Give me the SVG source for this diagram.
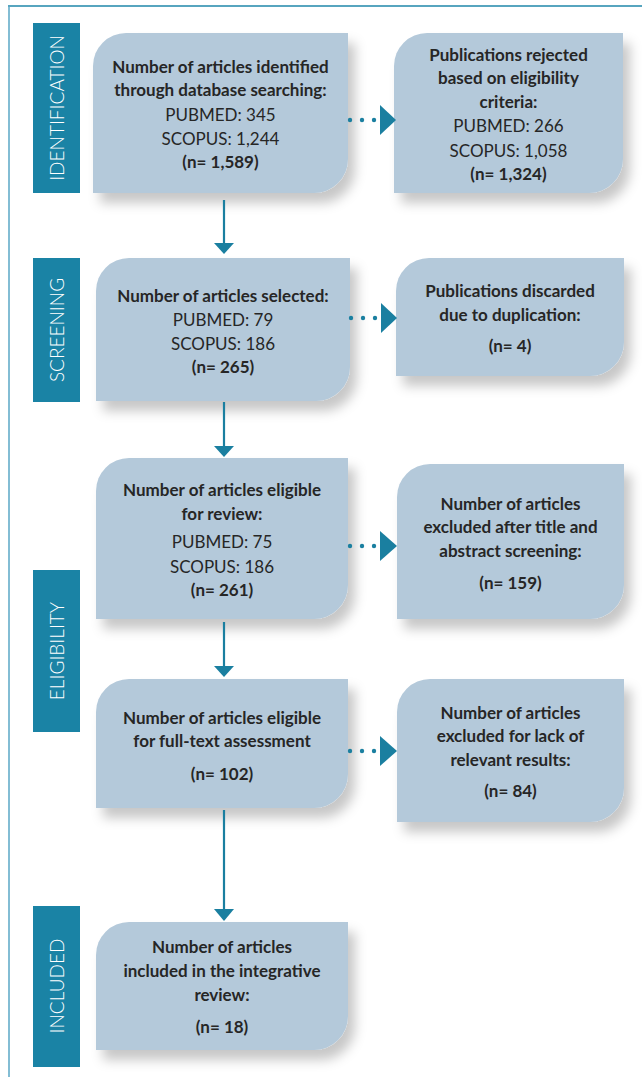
<svg xmlns="http://www.w3.org/2000/svg" width="642" height="1077" viewBox="0 0 642 1077">
<defs>
<filter id="sh" x="-20%" y="-20%" width="150%" height="160%">
<feDropShadow dx="7" dy="10" stdDeviation="6" flood-color="#000" flood-opacity="0.22"/>
</filter>
<style>
.box{fill:#b4c9da;filter:url(#sh);}
.lab{fill:#1a83a5;}
.lt{font-family:Lato,"Open Sans",sans-serif;font-weight:300;font-size:19px;fill:#fff;text-anchor:middle;dominant-baseline:central;}
.t{font-family:Lato,"Open Sans",sans-serif;font-size:17px;fill:#262626;text-anchor:middle;}
.b{font-weight:700;}
.dot{fill:#1a7fa0;}
.ln{stroke:#1a7fa0;stroke-width:2.2;fill:none;}
.hd{fill:#1a7fa0;}
</style>
</defs>
<line x1="8" y1="6" x2="642" y2="6" stroke="#1f87aa" stroke-width="1.5"/>
<line x1="9" y1="6" x2="9" y2="1077" stroke="#5aa7c6" stroke-width="1.5"/>

<g id="stage-labels">
<g id="lab-identification"><rect class="lab" x="33" y="23" width="47" height="170"/><text class="lt" transform="translate(56.5 108) rotate(-90)">IDENTIFICATION</text></g>
<g id="lab-screening"><rect class="lab" x="33" y="258" width="47" height="144"/><text class="lt" transform="translate(56.5 330) rotate(-90)">SCREENING</text></g>
<g id="lab-eligibility"><rect class="lab" x="33" y="570" width="47" height="162"/><text class="lt" transform="translate(56.5 651) rotate(-90)">ELIGIBILITY</text></g>
<g id="lab-included"><rect class="lab" x="33" y="906" width="47" height="161"/><text class="lt" transform="translate(56.5 986) rotate(-90)">INCLUDED</text></g>
</g>

<g id="n1">
<path class="box" d="M93,66 A33,33 0 0 1 126,33 L348,33 L348,159 A34,34 0 0 1 314,193 L93,193 Z"/>
<text class="t b" x="220.5" y="73">Number of articles identified</text>
<text class="t b" x="220.5" y="96">through database searching:</text>
<text class="t" x="220.5" y="121">PUBMED: 345</text>
<text class="t" x="220.5" y="145">SCOPUS: 1,244</text>
<text class="t b" x="220.5" y="168">(n= 1,589)</text>
</g>
<g id="n1r">
<path class="box" d="M394,66 A33,33 0 0 1 427,33 L623,33 L623,159 A34,34 0 0 1 589,193 L394,193 Z"/>
<text class="t b" x="508.5" y="61">Publications rejected</text>
<text class="t b" x="508.5" y="84">based on eligibility</text>
<text class="t b" x="508.5" y="108">criteria:</text>
<text class="t" x="508.5" y="132">PUBMED: 266</text>
<text class="t" x="508.5" y="157">SCOPUS: 1,058</text>
<text class="t b" x="508.5" y="180">(n= 1,324)</text>
</g>
<g id="n2">
<path class="box" d="M96,291 A33,33 0 0 1 129,258 L350,258 L350,367 A34,34 0 0 1 316,401 L96,401 Z"/>
<text class="t b" x="223" y="302">Number of articles selected:</text>
<text class="t" x="223" y="326">PUBMED: 79</text>
<text class="t" x="223" y="350">SCOPUS: 186</text>
<text class="t b" x="223" y="373">(n= 265)</text>
</g>
<g id="n2r">
<path class="box" d="M396,291 A33,33 0 0 1 429,258 L624,258 L624,342 A34,34 0 0 1 590,376 L396,376 Z"/>
<text class="t b" x="510" y="297">Publications discarded</text>
<text class="t b" x="510" y="321">due to duplication:</text>
<text class="t b" x="510" y="352">(n= 4)</text>
</g>
<g id="n3">
<path class="box" d="M96,491 A33,33 0 0 1 129,458 L348,458 L348,585 A34,34 0 0 1 314,619 L96,619 Z"/>
<text class="t b" x="222" y="496">Number of articles eligible</text>
<text class="t b" x="222" y="520">for review:</text>
<text class="t" x="222" y="548">PUBMED: 75</text>
<text class="t" x="222" y="573">SCOPUS: 186</text>
<text class="t b" x="222" y="596">(n= 261)</text>
</g>
<g id="n3r">
<path class="box" d="M397,497 A33,33 0 0 1 430,464 L624,464 L624,585 A34,34 0 0 1 590,619 L397,619 Z"/>
<text class="t b" x="510.5" y="510">Number of articles</text>
<text class="t b" x="510.5" y="533">excluded after title and</text>
<text class="t b" x="510.5" y="557">abstract screening:</text>
<text class="t b" x="510.5" y="589">(n= 159)</text>
</g>
<g id="n4">
<path class="box" d="M96,712 A33,33 0 0 1 129,679 L348,679 L348,774 A34,34 0 0 1 314,808 L96,808 Z"/>
<text class="t b" x="222" y="724">Number of articles eligible</text>
<text class="t b" x="222" y="747">for full-text assessment</text>
<text class="t b" x="222" y="780">(n= 102)</text>
</g>
<g id="n4r">
<path class="box" d="M397,712 A33,33 0 0 1 430,679 L624,679 L624,788 A34,34 0 0 1 590,822 L397,822 Z"/>
<text class="t b" x="510.5" y="719">Number of articles</text>
<text class="t b" x="510.5" y="742">excluded for lack of</text>
<text class="t b" x="510.5" y="766">relevant results:</text>
<text class="t b" x="510.5" y="797">(n= 84)</text>
</g>
<g id="n5">
<path class="box" d="M96,955 A33,33 0 0 1 129,922 L348,922 L348,1016 A34,34 0 0 1 314,1050 L96,1050 Z"/>
<text class="t b" x="222" y="953">Number of articles</text>
<text class="t b" x="222" y="977">included in the integrative</text>
<text class="t b" x="222" y="1001">review:</text>
<text class="t b" x="222" y="1033">(n= 18)</text>
</g>

<g id="connectors">
<line class="ln" x1="224" y1="200" x2="224" y2="244"/>
<polygon class="hd" points="214,243 234,243 224,254"/>
<line class="ln" x1="224" y1="402" x2="224" y2="447"/>
<polygon class="hd" points="214,446 234,446 224,457"/>
<line class="ln" x1="224" y1="622" x2="224" y2="667"/>
<polygon class="hd" points="214,666 234,666 224,677"/>
<line class="ln" x1="224" y1="810" x2="224" y2="910"/>
<polygon class="hd" points="214,909 234,909 224,921"/>

<circle class="dot" cx="350" cy="120" r="2.2"/><circle class="dot" cx="362" cy="120" r="2.2"/><circle class="dot" cx="374" cy="120" r="2.2"/>
<polygon class="hd" points="380,105 396,120 380,135"/>
<circle class="dot" cx="351" cy="318" r="2.2"/><circle class="dot" cx="363" cy="318" r="2.2"/><circle class="dot" cx="375" cy="318" r="2.2"/>
<polygon class="hd" points="381,303 397,318 381,333"/>
<circle class="dot" cx="350" cy="546" r="2.2"/><circle class="dot" cx="362" cy="546" r="2.2"/><circle class="dot" cx="374" cy="546" r="2.2"/>
<polygon class="hd" points="380,531 397,546 380,561"/>
<circle class="dot" cx="350" cy="751" r="2.2"/><circle class="dot" cx="362" cy="751" r="2.2"/><circle class="dot" cx="374" cy="751" r="2.2"/>
<polygon class="hd" points="380,736 397,751 380,766"/>
</g>
</svg>
